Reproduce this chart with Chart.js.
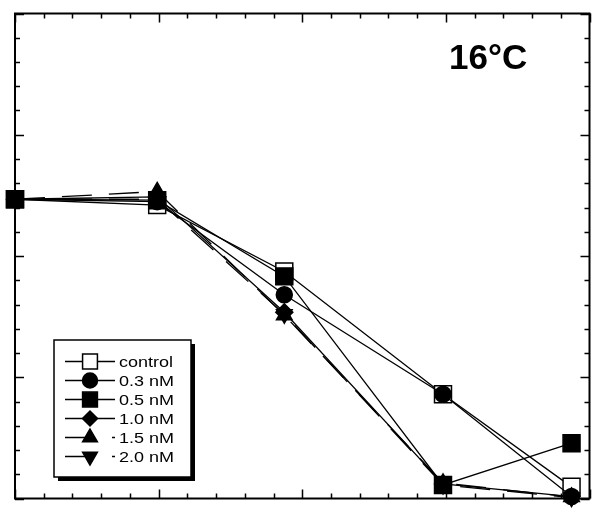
<!DOCTYPE html>
<html lang="en">
<head>
  <meta charset="UTF-8">
  <title>16°C</title>
  <script src="https://cdn.jsdelivr.net/npm/chart.js"></script>
  <style>
    html, body { margin: 0; padding: 0; background: #fff; }
    #wrap { width: 603px; height: 512px; }
  </style>
</head>
<body>
  <div id="wrap"><canvas id="chart" width="603" height="512"></canvas></div>

  <script>
    // values (axis has no labels, so units are arbitrary)
    const xValues = [0, 0.99, 1.875, 2.98, 3.875];
    const seriesLabels = ['control', '0.3 nM', '0.5 nM', '1.0 nM', '1.5 nM', '2.0 nM'];
    const control = [61.7, 60.5, 46.8, 21.5, 2.4];
    const nM03 = [61.7, 61.2, 42.0, 21.5, 0.4];
    const nM05 = [61.7, 61.5, 45.8, 2.8, 11.4];
    const nM10 = [61.7, 62.2, 38.4, 3.0, 0.4];
    const nM15 = [61.7, 63.3, 37.8, 3.2, 0.3];
    const nM20 = [61.7, 61.7, 38.0, 2.8, 0.2];
    const panelLabel = '16°C';

    const seriesValues = [control, nM03, nM05, nM10, nM15, nM20];
    const styles = [
      { point: 'rect', r: 12, fill: '#fff', dash: [], rot: 0, lr: 10.5 },
      { point: 'circle', r: 8, fill: '#000', dash: [], rot: 0, lr: 7.5 },
      { point: 'rect', r: 12, fill: '#000', dash: [], rot: 0, lr: 10.5 },
      { point: 'rectRot', r: 8.5, fill: '#000', dash: [], rot: 0, lr: 7.5 },
      { point: 'triangle', r: 9, fill: '#000', dash: [30, 17], rot: 0, lr: 8.5 },
      { point: 'triangle', r: 9, fill: '#000', dash: [30, 17], rot: 180, lr: 8.5 }
    ];

    function marker(ctx, st, r, x, y) {
      const opts = { pointStyle: st.point, radius: r, rotation: st.rot, borderWidth: 1.5 };
      ctx.save();
      ctx.fillStyle = st.fill;
      ctx.strokeStyle = '#000';
      ctx.lineWidth = 1.5;
      ctx.setLineDash([]);
      Chart.helpers.drawPoint(ctx, opts, x, y);
      ctx.restore();
    }

    const framePlugin = {
      id: 'frame',
      beforeDatasetsDraw(chart) {
        const { ctx, chartArea: a, scales } = chart;
        ctx.save();
        ctx.strokeStyle = '#000';
        ctx.lineWidth = 1.5;
        scales.x.ticks.forEach(t => {
          const px = Math.round(scales.x.getPixelForValue(t.value)) + 0.5;
          const len = Math.abs(t.value - Math.round(t.value)) < 1e-6 ? 9 : 5;
          ctx.beginPath();
          ctx.moveTo(px, a.top); ctx.lineTo(px, a.top + len);
          ctx.moveTo(px, a.bottom); ctx.lineTo(px, a.bottom - len);
          ctx.stroke();
        });
        scales.y.ticks.forEach(t => {
          const py = Math.round(scales.y.getPixelForValue(t.value)) + 0.5;
          const len = Math.abs(t.value % 25) < 1e-6 ? 9 : 5;
          ctx.beginPath();
          ctx.moveTo(a.left, py); ctx.lineTo(a.left + len, py);
          ctx.moveTo(a.right, py); ctx.lineTo(a.right - len, py);
          ctx.stroke();
        });
        ctx.lineWidth = 2;
        ctx.strokeRect(a.left, a.top, a.right - a.left, a.bottom - a.top);
        ctx.restore();
      },
      afterDraw(chart) {
        const ctx = chart.ctx;
        ctx.save();
        // panel label
        ctx.fillStyle = '#000';
        ctx.font = 'bold 35px "Liberation Sans", Arial, sans-serif';
        ctx.textBaseline = 'alphabetic';
        ctx.fillText(panelLabel, 449, 69);

        // legend box with drop shadow
        const bx = 54, by = 340, bw = 137, bh = 137;
        ctx.fillStyle = '#000';
        ctx.fillRect(bx + 4, by + 4, bw, bh);
        ctx.fillStyle = '#fff';
        ctx.fillRect(bx, by, bw, bh);
        ctx.strokeStyle = '#000';
        ctx.lineWidth = 1.5;
        ctx.strokeRect(bx, by, bw, bh);

        ctx.font = '15px "Liberation Sans", Arial, sans-serif';
        ctx.textBaseline = 'middle';
        seriesLabels.forEach((lab, i) => {
          const y = 361.5 + i * 19;
          const st = styles[i];
          ctx.strokeStyle = '#000';
          ctx.lineWidth = 1.3;
          ctx.setLineDash(st.dash);
          ctx.beginPath();
          ctx.moveTo(65, y); ctx.lineTo(115, y);
          ctx.stroke();
          ctx.setLineDash([]);
          marker(ctx, st, st.lr, 90, y);
          ctx.fillStyle = '#000';
          // the original legend text is slightly stretched sideways
          ctx.save();
          ctx.translate(119, y + 1);
          ctx.scale(1.2, 1);
          ctx.fillText(lab, 0, 0);
          ctx.restore();
        });
        ctx.restore();
      }
    };

    const datasets = seriesLabels.map((lab, i) => ({
      label: lab,
      data: xValues.map((x, j) => ({ x: x, y: seriesValues[i][j] })),
      borderColor: '#000',
      borderWidth: 1.3,
      borderDash: styles[i].dash,
      pointStyle: styles[i].point,
      pointRadius: styles[i].r,
      pointRotation: styles[i].rot,
      pointBackgroundColor: styles[i].fill,
      pointBorderColor: '#000',
      pointBorderWidth: 1.5,
      tension: 0,
      clip: false,
      order: 6 - i
    }));

    new Chart(document.getElementById('chart'), {
      type: 'line',
      data: { datasets: datasets },
      options: {
        responsive: false,
        animation: false,
        layout: { padding: { left: 15, top: 9, right: 10, bottom: 5 } },
        plugins: { legend: { display: false }, tooltip: { enabled: false } },
        scales: {
          x: {
            type: 'linear', min: 0, max: 4,
            ticks: { display: false, stepSize: 0.2 },
            grid: { display: false, drawTicks: false },
            border: { display: false }
          },
          y: {
            type: 'linear', min: 0, max: 100,
            ticks: { display: false, stepSize: 5 },
            grid: { display: false, drawTicks: false },
            border: { display: false }
          }
        }
      },
      plugins: [framePlugin]
    });
  </script>
</body>
</html>
